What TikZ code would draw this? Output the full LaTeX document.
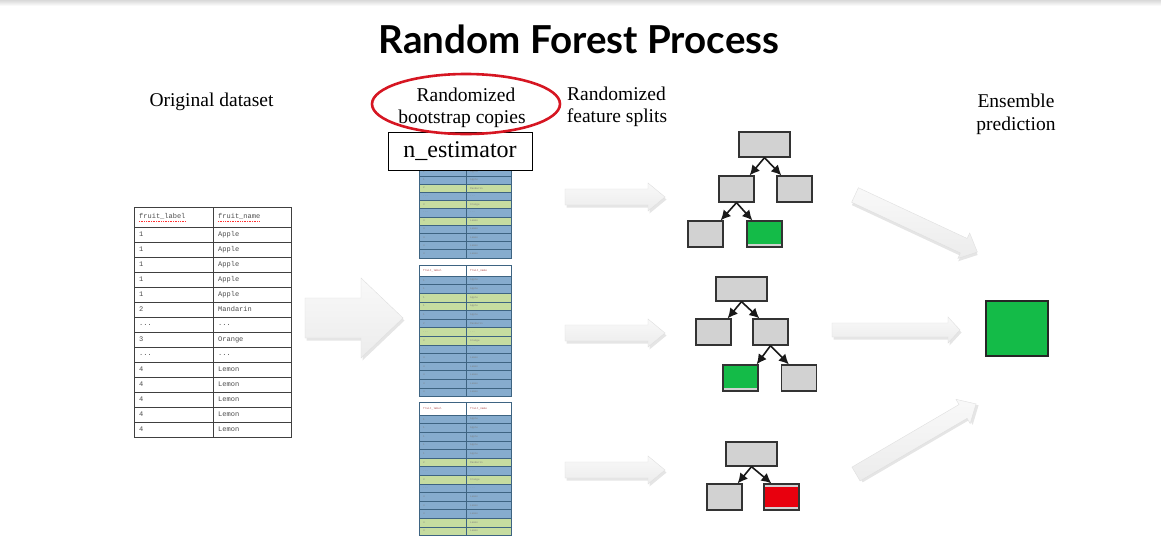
\documentclass[tikz,border=0pt]{standalone}
\usepackage{fontspec}
\setmainfont{Liberation Serif}
\newfontfamily\titlefont{Lato}
\newfontfamily\monofont{Liberation Mono}
\usetikzlibrary{arrows.meta,calc,shapes.geometric}

\definecolor{rfred}{RGB}{214,22,34}
\definecolor{leafgreen}{RGB}{20,187,72}
\definecolor{leafred}{RGB}{232,0,14}
\definecolor{boxgray}{RGB}{210,210,210}
\definecolor{rowblue}{RGB}{134,172,206}
\definecolor{rowgreen}{RGB}{198,220,160}
\definecolor{rowline}{RGB}{62,100,130}
\definecolor{headred}{RGB}{170,70,70}

\newcommand\tdots{...}

% block arrow: #1 start, #2 angle, #3 length, #4 shaft half width, #5 head half width, #6 head length
\newcommand\blockarrow[6]{%
  \begin{scope}[shift={#1}, rotate=#2]
    \fill[black, opacity=0.10, xshift=1.5pt, yshift=-2.5pt]
      (0,-#4) -- (#3-#6,-#4) -- (#3-#6,-#5) -- (#3,0) -- (#3-#6,#5) -- (#3-#6,#4) -- (0,#4) -- cycle;
    \shade[top color=gray!5, bottom color=gray!15, draw=gray!25, line width=0.4pt]
      (0,-#4) -- (#3-#6,-#4) -- (#3-#6,-#5) -- (#3,0) -- (#3-#6,#5) -- (#3-#6,#4) -- (0,#4) -- cycle;
  \end{scope}}

% header row of a bootstrap copy: #1 name, #2 top, #3 height
\newcommand\boothdr[3]{%
  \path[fill=white, draw=rowline, line width=0.6pt] (419,#2) rectangle (466,#2+#3);
  \path[fill=white, draw=rowline, line width=0.6pt] (466,#2) rectangle (511,#2+#3);
  \node[boothead] (#1-h-a) at (423,#2+#3/2) {fruit\_label};
  \node[boothead] (#1-h-b) at (470,#2+#3/2) {fruit\_name};}

% data rows of a bootstrap copy: #1 name, #2 top, #3 row height, #4 rows colour/label/name
\newcommand\bootrows[4]{%
  \foreach \c/\a/\b [count=\i from 0] in {#4} {
    \path[fill=\c, draw=rowline, line width=0.6pt] (419,#2+\i*#3) rectangle (466,#2+\i*#3+#3);
    \path[fill=\c, draw=rowline, line width=0.6pt] (466,#2+\i*#3) rectangle (511,#2+\i*#3+#3);
    \node[boottext] (#1-\i-a) at (423,#2+\i*#3+#3/2) {\a};
    \node[boottext] (#1-\i-b) at (470,#2+\i*#3+#3/2) {\b};
  }}

\begin{document}
\begin{tikzpicture}[x=1pt,y=-1pt,
  lbl/.style={font=\fontsize{19.5}{22}\selectfont, inner sep=0, anchor=base},
  treebox/.style={draw=black!80, line width=1.3pt, fill=boxgray, inner sep=0,
    minimum width=35pt, minimum height=26pt},
  rootbox/.style={treebox, minimum width=51pt, minimum height=25pt},
  greenleaf/.style={treebox, path picture={\fill[leafgreen]
    (path picture bounding box.north west) rectangle ([yshift=3pt]path picture bounding box.south east);}},
  redleaf/.style={treebox, path picture={\fill[leafred]
    ([yshift=-3pt]path picture bounding box.north west) rectangle ([yshift=3pt]path picture bounding box.south east);}},
  branch/.style={-{Latex[length=10pt,width=10pt]}, line width=1.6pt, black!90},
  origline/.style={draw=black!75, line width=0.9pt},
  origtext/.style={anchor=west, inner sep=0, font=\monofont\fontsize{7}{8}\selectfont, text=black!70},
  boottext/.style={anchor=west, inner sep=0, font=\monofont\fontsize{2.6}{3}\selectfont, text=black!50},
  boothead/.style={anchor=west, inner sep=0, font=\monofont\fontsize{2.8}{3}\selectfont, text=headred},
]
\fill[white] (0,0) rectangle (1161,555);
\useasboundingbox (0,0) rectangle (1161,555);
\shade[top color=gray!30, bottom color=white] (0,0) rectangle (1161,6);

% title
\node[anchor=base, inner sep=0, font=\titlefont\bfseries\fontsize{38.5}{42}\selectfont] (title) at (579,53) {Random Forest Process};

% column headings
\node[lbl] (orighead) at (211.5,106) {Original dataset};
\node[lbl] (boothead1) at (466,101) {Randomized};
\node[lbl] (boothead2) at (462,123) {bootstrap copies};
\node[lbl] (feathead1) at (616.5,100) {Randomized};
\node[lbl] (feathead2) at (617,122) {feature splits};
\node[lbl] (enshead1) at (1016,107) {Ensemble};
\node[lbl] (enshead2) at (1016,130) {prediction};

% original dataset table
\draw[origline] (134,207) rectangle (213,227);
\draw[origline] (213,207) rectangle (291,227);
\node[origtext] (orig-h-a) at (139,216) {fruit\_label};
\node[origtext] (orig-h-b) at (218,216) {fruit\_name};
\draw[red!80, densely dotted, line width=0.7pt] (orig-h-a.south west) ++(0,2.5) -- ++(46,0);
\draw[red!80, densely dotted, line width=0.7pt] (orig-h-b.south west) ++(0,2.5) -- ++(42,0);
\foreach \a/\b [count=\i from 0] in {1/Apple,1/Apple,1/Apple,1/Apple,1/Apple,2/Mandarin,\tdots/\tdots,3/Orange,\tdots/\tdots,4/Lemon,4/Lemon,4/Lemon,4/Lemon,4/Lemon} {
  \draw[origline] (134,227+15*\i) rectangle (213,242+15*\i);
  \draw[origline] (213,227+15*\i) rectangle (291,242+15*\i);
  \node[origtext] (orig-\i-a) at (139,234.5+15*\i) {\a};
  \node[origtext] (orig-\i-b) at (218,234.5+15*\i) {\b};
}

% block arrows
\blockarrow{(305,318)}{0}{98}{20}{40}{42}
\blockarrow{(565,197)}{0}{100}{8}{14}{17}
\blockarrow{(565,333)}{0}{100}{8}{14}{17}
\blockarrow{(565,470)}{0}{100}{8}{14}{17}
\blockarrow{(832,330)}{0}{128}{7}{13}{12}
\blockarrow{(855,195)}{-25}{135}{8}{14}{15}
\blockarrow{(856,474)}{30.3}{139}{8}{14}{15}

% bootstrap copies (the first one shows only its lower rows below the label box)
\bootrows{bt1}{167.6}{8.2}{rowblue/1/Apple,rowblue/1/Apple,rowgreen/2/Mandarin,rowblue/\tdots/\tdots,rowgreen/3/Orange,rowblue/\tdots/\tdots,rowgreen/4/Lemon,rowblue/4/Lemon,rowblue/4/Lemon,rowblue/4/Lemon,rowblue/4/Lemon}
\boothdr{bt2}{265}{11}
\bootrows{bt2}{276}{8.6}{rowblue/1/Apple,rowblue/1/Apple,rowgreen/1/Apple,rowgreen/1/Apple,rowblue/1/Apple,rowblue/2/Mandarin,rowgreen/\tdots/\tdots,rowgreen/3/Orange,rowblue/\tdots/\tdots,rowblue/4/Lemon,rowblue/4/Lemon,rowblue/4/Lemon,rowblue/4/Lemon,rowblue/4/Lemon}
\boothdr{bt3}{402}{13}
\bootrows{bt3}{415}{8.6}{rowblue/1/Apple,rowblue/1/Apple,rowblue/1/Apple,rowblue/1/Apple,rowblue/1/Apple,rowgreen/2/Mandarin,rowblue/\tdots/\tdots,rowgreen/3/Orange,rowblue/\tdots/\tdots,rowblue/4/Lemon,rowblue/4/Lemon,rowblue/4/Lemon,rowgreen/4/Lemon,rowgreen/4/Lemon}

\node[draw=black, fill=white, line width=0.9pt, minimum width=144pt, minimum height=38pt,
  inner sep=0, font=\fontsize{24}{26}\selectfont] (nest) at (460,151) {n\_estimator};
\node[ellipse, draw=rfred, line width=2.6pt, minimum width=188pt, minimum height=60pt, inner sep=0] (bootoval) at (466,104) {};

% tree 1
\node[rootbox] (a0) at (764.5,144.5) {};
\node[treebox] (a1) at (736.5,189) {};
\node[treebox] (a2) at (794.5,189) {};
\node[treebox] (a3) at (705.5,234) {};
\node[greenleaf] (a4) at (764.5,234) {};
\draw[branch] (a0.south) -- ([xshift=-5pt]a1.north east);
\draw[branch] (a0.south) -- ([xshift=5pt]a2.north west);
\draw[branch] (a1.south) -- ([xshift=-3pt]a3.north east);
\draw[branch] (a1.south) -- ([xshift=6pt]a4.north west);

% tree 2
\node[rootbox, minimum height=24pt] (b0) at (741.5,289) {};
\node[treebox] (b1) at (713.5,332) {};
\node[treebox] (b2) at (770.5,332) {};
\node[greenleaf] (b3) at (740.5,378) {};
\node[treebox] (b4) at (799,378) {};
\draw[branch] (b0.south) -- ([xshift=-4pt]b1.north east);
\draw[branch] (b0.south) -- ([xshift=7pt]b2.north west);
\draw[branch] (b2.south) -- ([xshift=-2pt]b3.north east);
\draw[branch] (b2.south) -- ([xshift=8pt]b4.north west);

% tree 3
\node[rootbox, minimum height=24pt] (c0) at (751.5,454) {};
\node[treebox] (c1) at (724.5,497) {};
\node[redleaf] (c2) at (781.5,497) {};
\draw[branch] (c0.south) -- ([xshift=-5pt]c1.north east);
\draw[branch] (c0.south) -- ([xshift=8pt]c2.north west);

% ensemble result
\node[draw=black!85, line width=1.2pt, fill=leafgreen, minimum width=62pt, minimum height=55pt, inner sep=0] (ens) at (1017,328.5) {};
\end{tikzpicture}
\end{document}
